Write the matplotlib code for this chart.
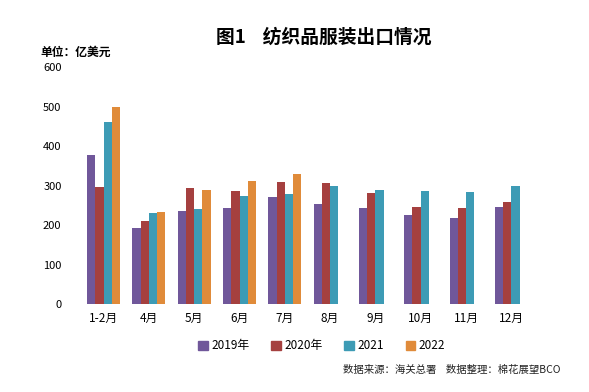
import numpy as np
import matplotlib.pyplot as plt
from matplotlib.patches import Patch

plt.rcParams['font.family'] = ['Noto Sans CJK SC', 'DejaVu Sans']

months = ['1-2月', '4月', '5月', '6月', '7月', '8月', '9月', '10月', '11月', '12月']
series_names = ['2019年', '2020年', '2021', '2022']
v2019 = [378, 193, 236, 243, 271, 253, 243, 226, 218, 246]
v2020 = [296, 210, 294, 286, 309, 307, 281, 246, 243, 259]
v2021 = [460, 231, 241, 274, 279, 299, 289, 286, 284, 299]
v2022 = [499, 233, 289, 312, 330, np.nan, np.nan, np.nan, np.nan, np.nan]
colors = ['#70579A', '#A5403F', '#3D9BB5', '#E08B3A']

fig = plt.figure(figsize=(5.89, 3.92), dpi=100)
ax = fig.add_axes([0.1375, 0.2245, 0.769, 0.6045])

x = np.arange(len(months))
w = 0.182
for i, (vals, c) in enumerate(zip([v2019, v2020, v2021, v2022], colors)):
    ax.bar(x + (i - 1.5) * w, vals, width=w, color=c, linewidth=0)

ax.set_xlim(-0.5, len(months) - 0.5)
ax.set_ylim(0, 600)
ax.set_yticks(range(0, 601, 100))
ax.set_xticks(x)
ax.set_xticklabels(months, fontsize=8.5)
ax.tick_params(axis='y', labelsize=8, length=0, pad=14)
ax.tick_params(axis='x', length=0, pad=6)
for s in ax.spines.values():
    s.set_visible(False)

fig.text(0.55, 0.905, '图1    纺织品服装出口情况', ha='center', va='center',
         fontsize=13.5, fontweight='bold')
fig.text(0.068, 0.866, '单位：亿美元', ha='left', va='center',
         fontsize=8.5, fontweight='bold')

handles = [Patch(color=c, label=n) for c, n in zip(colors, series_names)]
fig.legend(handles=handles, loc='center', bbox_to_anchor=(0.546, 0.118), ncol=4,
           frameon=False, fontsize=8.5, handlelength=0.8, handleheight=0.8,
           handletextpad=0.3, columnspacing=1.85)

fig.text(0.951, 0.055, '数据来源：海关总署    数据整理：棉花展望BCO', ha='right',
         va='center', fontsize=7.5, color='#222222')

fig.savefig('out.png', dpi=100)
